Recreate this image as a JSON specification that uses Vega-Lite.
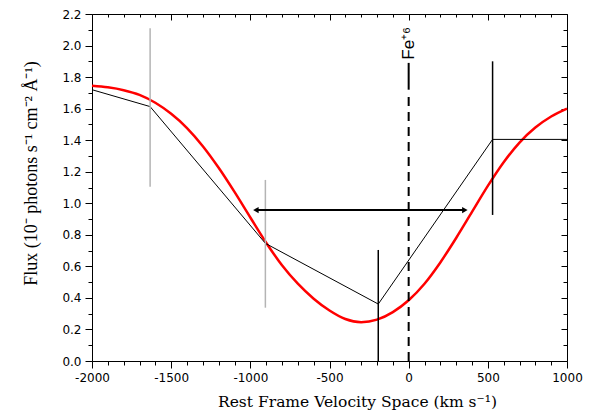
{
  "$schema": "https://vega.github.io/schema/vega-lite/v6.json",
  "width": 475,
  "height": 347,
  "autosize": "none",
  "padding": {"left": 92, "top": 14, "right": 25, "bottom": 56},
  "config": {"view": {"stroke": null}, "axis": {"grid": false}},
  "datasets": {
    "model": [
      {"v": -2000, "flux": 1.745}, {"v": -1900, "flux": 1.735}, {"v": -1800, "flux": 1.717},
      {"v": -1700, "flux": 1.687}, {"v": -1600, "flux": 1.637}, {"v": -1500, "flux": 1.567},
      {"v": -1400, "flux": 1.477}, {"v": -1300, "flux": 1.362}, {"v": -1200, "flux": 1.225},
      {"v": -1100, "flux": 1.072}, {"v": -1000, "flux": 0.91}, {"v": -900, "flux": 0.75},
      {"v": -800, "flux": 0.607}, {"v": -700, "flux": 0.49}, {"v": -600, "flux": 0.395},
      {"v": -500, "flux": 0.32}, {"v": -400, "flux": 0.266}, {"v": -300, "flux": 0.246},
      {"v": -200, "flux": 0.262}, {"v": -100, "flux": 0.31}, {"v": 0, "flux": 0.385},
      {"v": 100, "flux": 0.49}, {"v": 200, "flux": 0.625}, {"v": 300, "flux": 0.78},
      {"v": 400, "flux": 0.945}, {"v": 500, "flux": 1.11}, {"v": 600, "flux": 1.26},
      {"v": 700, "flux": 1.385}, {"v": 800, "flux": 1.48}, {"v": 900, "flux": 1.55},
      {"v": 1000, "flux": 1.6}
    ],
    "obs": [
      {"v": -2000, "flux": 1.72}, {"v": -1633, "flux": 1.613}, {"v": -905, "flux": 0.746},
      {"v": -192, "flux": 0.361}, {"v": 530, "flux": 1.405}, {"v": 1000, "flux": 1.405}
    ],
    "errGray": [
      {"v": -1633, "lo": 1.105, "hi": 2.11},
      {"v": -905, "lo": 0.338, "hi": 1.148}
    ],
    "errBlack": [
      {"v": -192, "lo": 0.0, "hi": 0.704},
      {"v": 530, "lo": 0.926, "hi": 1.9}
    ],
    "arrow": [{"x1": -965, "x2": 355, "y": 0.957}],
    "heads": [
      {"v": -965, "y": 0.957, "dir": "left"},
      {"v": 355, "y": 0.957, "dir": "right"}
    ],
    "feSolid": [{"v": 0, "lo": 1.72, "hi": 1.89}],
    "feDash": [{"v": 0, "lo": 0.0, "hi": 1.7}],
    "feLabel": [{"v": 0, "y": 1.91, "label": "Fe⁺⁶"}]
  },
  "layer": [
    {
      "data": {"name": "model"},
      "mark": {"type": "line", "color": "#ff0000", "strokeWidth": 2.5, "interpolate": "monotone"},
      "encoding": {
        "x": {
          "field": "v", "type": "quantitative",
          "scale": {"domain": [-2000, 1000], "nice": false, "zero": false},
          "axis": {
            "orient": "bottom",
            "values": [-2000,-1900,-1800,-1700,-1600,-1500,-1400,-1300,-1200,-1100,-1000,-900,-800,-700,-600,-500,-400,-300,-200,-100,0,100,200,300,400,500,600,700,800,900,1000],
            "labelExpr": "datum.value % 500 === 0 ? '' + datum.value : ''",
            "tickSize": {"condition": {"test": "datum.value % 500 === 0", "value": 7}, "value": 4},
            "labelPadding": 4,
            "labelOverlap": false,
            "labelFlush": false,
            "labelFont": "DejaVu Sans",
            "labelFontSize": 12,
            "labelColor": "black",
            "domainColor": "black",
            "tickColor": "black",
            "title": "Rest Frame Velocity Space (km s⁻¹)",
            "titleFont": "DejaVu Serif",
            "titleFontSize": 15.5,
            "titleFontWeight": "normal",
            "titleColor": "black",
            "titleX": 265,
            "titleY": 33,
            "titleBaseline": "top"
          }
        },
        "y": {
          "field": "flux", "type": "quantitative",
          "scale": {"domain": [0, 2.2], "nice": false},
          "axis": {
            "orient": "left",
            "values": [0,0.1,0.2,0.3,0.4,0.5,0.6,0.7,0.8,0.9,1.0,1.1,1.2,1.3,1.4,1.5,1.6,1.7,1.8,1.9,2.0,2.1,2.2],
            "labelExpr": "round(datum.value * 10) % 2 === 0 ? format(datum.value, '.1f') : ''",
            "tickSize": {"condition": {"test": "round(datum.value * 10) % 2 === 0", "value": 7}, "value": 4},
            "labelPadding": 4,
            "labelOverlap": false,
            "labelFlush": false,
            "labelFont": "DejaVu Sans",
            "labelFontSize": 12,
            "labelColor": "black",
            "domainColor": "black",
            "tickColor": "black",
            "title": "Flux (10⁻ photons s⁻¹ cm⁻² Å⁻¹)",
            "titleFont": "Liberation Serif",
            "titleFontSize": 18,
            "titleFontWeight": "normal",
            "titleColor": "black",
            "titleX": -61,
            "titleY": 159,
            "titleAngle": -90,
            "titleAlign": "center",
            "titleBaseline": "middle"
          }
        }
      }
    },
    {
      "data": {"name": "obs"},
      "mark": {"type": "line", "color": "black", "strokeWidth": 1},
      "encoding": {
        "x": {
          "field": "v", "type": "quantitative",
          "axis": {
            "orient": "top",
            "values": [-2000,-1900,-1800,-1700,-1600,-1500,-1400,-1300,-1200,-1100,-1000,-900,-800,-700,-600,-500,-400,-300,-200,-100,0,100,200,300,400,500,600,700,800,900,1000],
            "labels": false,
            "title": null,
            "tickSize": {"condition": {"test": "datum.value % 500 === 0", "value": -6}, "value": -3},
            "domainColor": "black",
            "tickColor": "black"
          }
        },
        "y": {
          "field": "flux", "type": "quantitative",
          "axis": {
            "orient": "right",
            "values": [0,0.1,0.2,0.3,0.4,0.5,0.6,0.7,0.8,0.9,1.0,1.1,1.2,1.3,1.4,1.5,1.6,1.7,1.8,1.9,2.0,2.1,2.2],
            "labels": false,
            "title": null,
            "tickSize": {"condition": {"test": "round(datum.value * 10) % 2 === 0", "value": -6}, "value": -4},
            "domainColor": "black",
            "tickColor": "black"
          }
        }
      }
    },
    {
      "data": {"name": "errGray"},
      "mark": {"type": "rule", "color": "#b4b4b4", "strokeWidth": 1.5},
      "encoding": {
        "x": {"field": "v", "type": "quantitative", "axis": null},
        "y": {"field": "lo", "type": "quantitative", "axis": null},
        "y2": {"field": "hi"}
      }
    },
    {
      "data": {"name": "errBlack"},
      "mark": {"type": "rule", "color": "black", "strokeWidth": 1.5},
      "encoding": {
        "x": {"field": "v", "type": "quantitative", "axis": null},
        "y": {"field": "lo", "type": "quantitative", "axis": null},
        "y2": {"field": "hi"}
      }
    },
    {
      "data": {"name": "arrow"},
      "mark": {"type": "rule", "color": "black", "strokeWidth": 2},
      "encoding": {
        "x": {"field": "x1", "type": "quantitative", "axis": null},
        "x2": {"field": "x2"},
        "y": {"field": "y", "type": "quantitative", "axis": null}
      }
    },
    {
      "data": {"name": "heads"},
      "mark": {"type": "point", "filled": true, "color": "black", "opacity": 1, "size": 40},
      "encoding": {
        "x": {"field": "v", "type": "quantitative", "axis": null},
        "y": {"field": "y", "type": "quantitative", "axis": null},
        "shape": {"field": "dir", "type": "nominal", "scale": {"domain": ["left", "right"], "range": ["triangle-left", "triangle-right"]}, "legend": null}
      }
    },
    {
      "data": {"name": "feSolid"},
      "mark": {"type": "rule", "color": "black", "strokeWidth": 2},
      "encoding": {
        "x": {"field": "v", "type": "quantitative", "axis": null},
        "y": {"field": "lo", "type": "quantitative", "axis": null},
        "y2": {"field": "hi"}
      }
    },
    {
      "data": {"name": "feDash"},
      "mark": {"type": "rule", "color": "black", "strokeWidth": 2, "strokeDash": [9, 6]},
      "encoding": {
        "x": {"field": "v", "type": "quantitative", "axis": null},
        "y": {"field": "lo", "type": "quantitative", "axis": null},
        "y2": {"field": "hi"}
      }
    },
    {
      "data": {"name": "feLabel"},
      "mark": {"type": "text", "angle": 270, "align": "left", "baseline": "middle", "font": "Liberation Sans", "fontSize": 17, "color": "black"},
      "encoding": {
        "x": {"field": "v", "type": "quantitative", "axis": null},
        "y": {"field": "y", "type": "quantitative", "axis": null},
        "text": {"field": "label"}
      }
    }
  ],
  "resolve": {"axis": {"x": "independent", "y": "independent"}}
}
